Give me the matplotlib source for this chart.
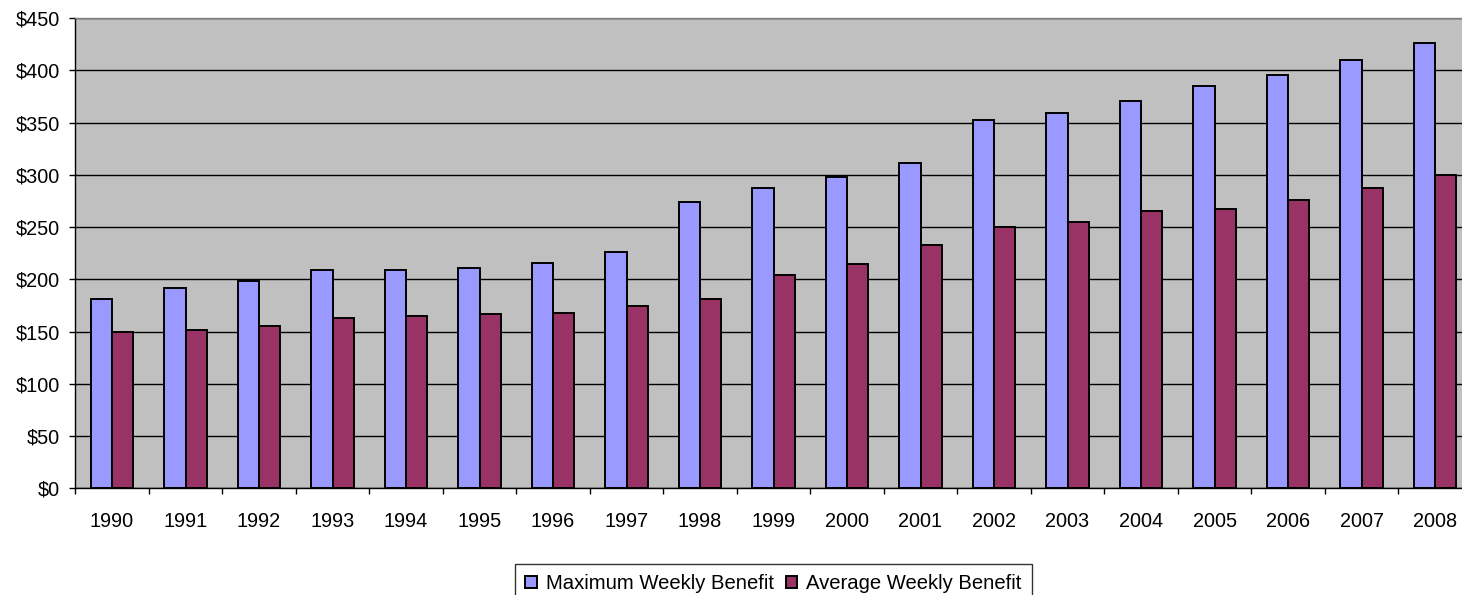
import matplotlib
matplotlib.use("Agg")
import matplotlib.pyplot as plt
import numpy as np
from matplotlib.ticker import FixedLocator, FuncFormatter

years = ["1990", "1991", "1992", "1993", "1994", "1995", "1996", "1997", "1998", "1999",
         "2000", "2001", "2002", "2003", "2004", "2005", "2006", "2007", "2008"]
max_benefit = [181, 192, 198, 209, 209, 211, 216, 226, 274, 287,
               298, 311, 352, 359, 371, 385, 395, 410, 426]
avg_benefit = [150, 151, 155, 163, 165, 167, 168, 174, 181, 204,
               215, 233, 250, 255, 265, 267, 276, 287, 300]
series_names = ["Maximum Weekly Benefit", "Average Weekly Benefit"]

plt.rcParams['font.family'] = ['Liberation Sans', 'DejaVu Sans']

W, H = 1462, 595
fig = plt.figure(figsize=(W / 100, H / 100), dpi=100)
fig.patch.set_facecolor('white')

left, right, top, bottom = 75.3, 1471.8, 18.0, 488.3
ax = fig.add_axes([left / W, 1 - bottom / H, (right - left) / W, (bottom - top) / H])
ax.set_facecolor('#C0C0C0')

x = np.arange(len(years))
bw = 0.29
ax.bar(x - bw / 2, max_benefit, bw, color='#9999FF', edgecolor='black', linewidth=1.4,
       label=series_names[0], zorder=3)
ax.bar(x + bw / 2, avg_benefit, bw, color='#993366', edgecolor='black', linewidth=1.4,
       label=series_names[1], zorder=3)

ax.set_xlim(-0.5, len(years) - 0.5)
ax.set_ylim(0, 450)
ax.set_yticks(np.arange(0, 451, 50))
ax.yaxis.set_major_formatter(FuncFormatter(lambda v, p: f"${int(v)}"))
ax.yaxis.grid(True, color='black', linewidth=1.0, zorder=1)
ax.set_axisbelow(True)

ax.set_xticks(x)
ax.set_xticklabels(years)
ax.xaxis.set_minor_locator(FixedLocator(np.arange(-0.5, len(years), 1.0)))
ax.tick_params(axis='x', which='major', length=0, pad=17, labelsize=14.3)
ax.tick_params(axis='x', which='minor', length=4.3, width=1, direction='out', color='black')
ax.tick_params(axis='y', which='major', length=4.3, width=1, direction='out', pad=7, labelsize=14.3)

for s in ['left', 'bottom']:
    ax.spines[s].set_color('black')
    ax.spines[s].set_linewidth(1.0)
for s in ['top', 'right']:
    ax.spines[s].set_color('#808080')
    ax.spines[s].set_linewidth(1.0)

leg = fig.legend(loc='upper center', bbox_to_anchor=(773.5 / W, 1 - 564 / H), ncol=2,
                 frameon=True, fancybox=False, edgecolor='black', fontsize=14.6,
                 handlelength=0.55, handleheight=0.55, handletextpad=0.45,
                 columnspacing=0.6, borderpad=0.5, borderaxespad=0)
leg.get_frame().set_linewidth(1.0)

fig.savefig("out.png", dpi=100)
